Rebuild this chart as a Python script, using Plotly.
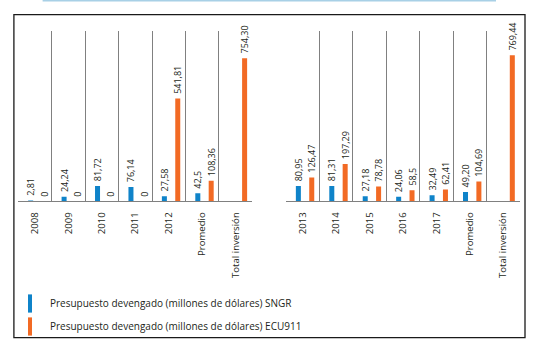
import plotly.graph_objects as go

# ---- data ----
cats_a = ["2008", "2009", "2010", "2011", "2012", "Promedio", "Total inversión"]
sngr_a = [2.81, 24.24, 81.72, 76.14, 27.58, 42.5, None]
ecu_a = [0, 0, 0, 0, 541.81, 108.36, 754.30]
sngr_a_lbl = ["2,81", "24,24", "81,72", "76,14", "27,58", "42,5", ""]
ecu_a_lbl = ["0", "0", "0", "0", "541,81", "108,36", "754,30"]

cats_b = ["2013", "2014", "2015", "2016", "2017", "Promedio", "Total inversión"]
sngr_b = [80.95, 81.31, 27.18, 24.06, 32.49, 49.20, None]
ecu_b = [126.47, 197.29, 78.78, 58.5, 62.41, 104.69, 769.44]
sngr_b_lbl = ["80,95", "81,31", "27,18", "24,06", "32,49", "49,20", ""]
ecu_b_lbl = ["126,47", "197,29", "78,78", "58,5", "62,41", "104,69", "769,44"]

name_sngr = "Presupuesto devengado (millones de dólares) SNGR"
name_ecu = "Presupuesto devengado (millones de dólares) ECU911"

BLUE = "#0f83c9"
ORANGE = "#f26a24"
TXT = "#231f20"
GRID = "#808080"
FONT = "Open Sans"

W, H = 543, 342
PAD = "\u00a0\u00a0"


def lbl(lst):
    return [PAD + s if s else "" for s in lst]


fig = go.Figure()


def add_panel(cats, s, e, sl, el, xa, ya):
    common = dict(width=0.15, textposition="outside", textangle=-90,
                  constraintext="none",
                  cliponaxis=False, showlegend=False, hoverinfo="skip",
                  textfont=dict(family=FONT, size=9, color=TXT),
                  xaxis=xa, yaxis=ya)
    fig.add_trace(go.Bar(x=cats, y=s, text=lbl(sl), offset=-0.205,
                         marker=dict(color=BLUE, line=dict(width=0)), **common))
    fig.add_trace(go.Bar(x=cats, y=e, text=lbl(el), offset=0.195,
                         marker=dict(color=ORANGE, line=dict(width=0)), **common))


add_panel(cats_a, sngr_a, ecu_a, sngr_a_lbl, ecu_a_lbl, "x", "y")
add_panel(cats_b, sngr_b, ecu_b, sngr_b_lbl, ecu_b_lbl, "x2", "y2")

# legend entries
for nm, col in [(name_sngr, BLUE), (name_ecu, ORANGE)]:
    fig.add_trace(go.Scatter(x=[None], y=[None], mode="markers", name=nm,
                             legendgroup=nm,
                             marker=dict(symbol="line-ns", size=13, color=col,
                                         line=dict(color=col, width=4)),
                             xaxis="x", yaxis="y"))

xcommon = dict(type="category", tickson="boundaries", showgrid=True,
               gridcolor=GRID, gridwidth=1, showline=True, linecolor=GRID,
               linewidth=1, ticks="", tickangle=-90, zeroline=False,
               tickfont=dict(family=FONT, size=9.6, color=TXT),
               ticklabelstandoff=6, fixedrange=True)
ycommon = dict(range=[0, 900], visible=False, fixedrange=True)

y_dom = [1 - 201.4 / H, 1 - 30.5 / H]

fig.update_layout(
    width=W, height=H,
    margin=dict(l=0, r=0, t=0, b=0),
    paper_bgcolor="white", plot_bgcolor="white",
    barmode="overlay",
    xaxis=dict(domain=[18.3 / W, 252.3 / W], anchor="y", **xcommon),
    yaxis=dict(domain=y_dom, anchor="x", **ycommon),
    xaxis2=dict(domain=[286 / W, 520 / W], anchor="y2", **xcommon),
    yaxis2=dict(domain=y_dom, anchor="x2", **ycommon),
    showlegend=True,
    legend=dict(x=10 / W, xanchor="left", y=1 - 289 / H, yanchor="top",
                orientation="v", traceorder="grouped", tracegroupgap=4,
                font=dict(family=FONT, size=10, color=TXT),
                bgcolor="rgba(0,0,0,0)", borderwidth=0),
    shapes=[
        dict(type="rect", xref="paper", yref="paper",
             x0=13.9 / W, x1=525 / W, y0=1 - 337.6 / H, y1=1 - 14.6 / H,
             line=dict(color="#1a1a1a", width=1.3), fillcolor="rgba(0,0,0,0)"),
        dict(type="line", xref="paper", yref="paper",
             x0=42.6 / W, x1=496 / W, y0=1 - 0.8 / H, y1=1 - 0.8 / H,
             line=dict(color="#a8d0e6", width=1.6)),
    ],
)

fig.write_html("out.html")
